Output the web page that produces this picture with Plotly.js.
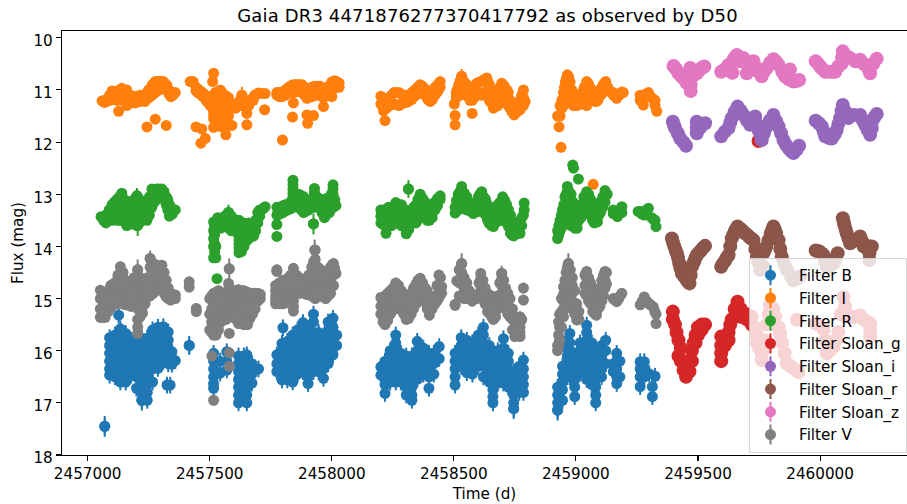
<!DOCTYPE html>
<html><head><meta charset="utf-8">
<script src="https://cdn.plot.ly/plotly-3.0.1.min.js"></script>
<style>html,body{margin:0;padding:0;background:#fff}</style></head>
<body><div id="chart" style="width:907px;height:504px"></div>
<script>
const epoch = 2457000;
const chartTitle = "Gaia DR3 4471876277370417792 as observed by D50";
const filterNames = ["Filter B","Filter I","Filter R","Filter Sloan_g","Filter Sloan_i","Filter Sloan_r","Filter Sloan_z","Filter V"];
// each row: days after epoch, then the magnitudes read at that time
const rowsB = [[70,17.45],[127,15.32],[90,15.75,15.9,16.05,16.2,16.35,16.47],[112,15.7,15.85,16.0,16.15,16.3,16.5],[134,15.58,15.75,15.9,16.05,16.2,16.35,16.5,16.6],[156,15.67,15.85,16.0,16.15,16.3,16.45,16.6],[178,15.8,15.95,16.1,16.25,16.47],[200,15.76,15.9,16.05,16.2,16.35,16.5,16.72],[222,15.76,15.9,16.05,16.2,16.35,16.5,16.65,16.8,16.95],[244,15.76,15.9,16.05,16.2,16.35,16.5,16.65,16.8,16.95],[266,15.6,15.75,15.9,16.05,16.2,16.35,16.6],[288,15.55,15.7,15.85,16.0,16.15,16.34],[310,15.54,15.7,15.85,16.0,16.2],[330,15.64,15.8,15.95,16.1,16.25],[345,16.02,16.15,16.26],[359,16.19],[338,16.66],[325,16.66],[416,15.9],
[516,16.05,16.2,16.35,16.5,16.63,16.72],[543,16.2,16.43],[570,16.02,16.2,16.37],[618,16.1,16.25,16.4,16.55,16.7,16.85,17.0],[640,16.1,16.25,16.4,16.55,16.7,16.85],[652,16.08,16.25,16.4,16.55,16.7,16.85,17.0],[673,16.25,16.45,16.62],[700,16.35],
[775,16.08,16.25,16.4],[796,15.86,16.0,16.15,16.3,16.45,16.56],[800,15.56],[818,15.82,16.0,16.15,16.3,16.45,16.56],[840,15.7,15.85,16.0,16.15,16.3,16.45,16.6],[860,15.6,15.75,15.9,16.05,16.2,16.35,16.45],[882,15.46,15.6,15.75,15.9,16.05,16.2,16.4],[903,15.6,15.75,15.9,16.05,16.2,16.35,16.5,16.63],[925,15.3,15.45,15.65,15.8,15.95,16.1,16.25,16.4],[946,15.65,15.8,15.95,16.1,16.25,16.4],[966,15.75,15.9,16.05,16.2,16.35,16.53],[985,15.45,15.6,15.75,15.9,16.05,16.25],[1005,15.38,15.55,15.7,15.85,16.08],[1020,15.7,15.9],
[1201,16.31,16.47],[1218,16.2,16.35,16.5,16.65,16.82],[1239,16.0,16.15,16.3,16.45,16.6],[1262,15.7,15.85,16.0,16.15,16.3,16.45,16.6],[1283,16.05,16.2,16.35,16.6],[1305,16.1,16.25,16.4,16.55,16.7,16.85],[1328,16.1,16.25,16.4,16.55,16.7,16.85,16.95],[1350,15.82,16.0,16.15,16.3,16.45,16.55],[1375,15.95,16.1,16.25,16.45],[1398,16.05,16.2,16.35,16.5,16.72],[1418,16.05,16.25,16.45],[1440,15.92,16.15],
[1505,16.05,16.2,16.35,16.5,16.66],[1530,15.75,15.9,16.05,16.2,16.3],[1553,15.8,15.95,16.1,16.25,16.42],[1576,15.85,16.0,16.15,16.3,16.45],[1600,15.7,15.85,16.0,16.15,16.3],[1621,15.55,15.7,15.85,16.0,16.15,16.3,16.5],[1645,15.9,16.05,16.2,16.35,16.6],[1660,16.0,16.15,16.3,16.45,16.6,16.75,16.88,17.0],[1680,16.0,16.15,16.3,16.45,16.62],[1703,15.77,15.95,16.1,16.25,16.4,16.62],[1723,16.05,16.2,16.35,16.5,16.7],[1745,16.4,16.55,16.7,16.85,17.0,17.11],[1768,16.3,16.45,16.6,16.8],[1785,16.18,16.35,16.5,16.65,16.8],
[1925,16.7,16.85,17.0,17.14],[1945,16.3,16.45,16.6,16.75,16.95],[1965,15.8,15.95,16.1,16.25,16.5],[1975,15.67,15.85,16.0,16.15,16.3,16.5],[1995,16.1,16.25,16.4,16.55,16.7,16.88],[2017,15.85,16.0,16.15,16.3,16.43],[2044,15.51,15.65,15.8,15.95,16.1,16.25,16.4,16.55],[2065,15.85,16.0,16.15,16.3,16.45,16.65],[2081,15.95,16.1,16.25,16.4,16.55,16.7,16.85,17.0],[2105,15.9,16.05,16.2,16.35,16.5],[2122,15.8,16.0,16.25],
[2167,16.05,16.2,16.35,16.5,16.63],[2153,16.25,16.4],[2180,16.2,16.5],[2263,16.21,16.35,16.5,16.69],[2280,16.21,16.35,16.5],[2300,16.44],[2324,16.49],[2313,16.69,16.88]];
const rowsI = [[59,11.21],[79,11.2,11.22],[100,11.02,11.15],[120,11.03,11.2],[127,11.41],[140,10.97,11.1,11.2],[160,11.0,11.15,11.3],[175,11.1,11.25],[195,11.13,11.25],[215,11.1,11.22],[235,11.1,11.22],[250,11.0,11.15],[265,10.9,11.1],[277,10.84,11.05],[295,10.84,11.0],[310,10.84,10.95],[325,10.92,11.0],[341,11.05,11.13],[359,11.05],[277,11.56],[243,11.71],[322,11.68],
[420,10.84],[432,10.84],[444,10.95,11.02],[465,11.03,11.1],[485,11.12,11.2],[502,11.15,11.3],[516,10.68],[512,10.84],[516,11.1,11.25,11.4,11.55,11.72],[530,11.1,11.3,11.5],[543,11.0,11.2,11.4,11.7],[560,11.1,11.35],[577,11.15,11.35,11.5,11.68],[598,11.3],[615,11.3],[632,11.1,11.3],[652,11.25,11.45,11.67],[670,11.2],[685,11.1],[700,11.06],[727,11.07],[725,11.38],[482,11.93],[464,12.02],[444,11.71],[468,11.75],[566,11.86],[591,11.68],
[775,11.05,11.1],[796,11.05,11.13],[823,10.95,11.05],[843,10.9,11.05,11.25],[860,10.9,11.0],[878,10.9,11.05],[898,11.0,11.16],[918,10.95,11.13],[939,10.93,11.1],[953,10.93,11.1],[966,11.0,11.15,11.32],[980,11.0,11.1],[1000,10.85,11.0,11.13],[1015,10.83,10.95],[1030,10.87,10.95],[839,11.52],[898,11.48],[901,11.64],[925,11.49],[798,11.96],
[1201,11.12,11.27],[1212,11.25,11.4],[1218,11.59],[1235,11.15,11.3],[1255,11.05,11.28],[1275,11.05,11.3],[1295,11.1,11.25],[1315,11.1,11.22],[1340,11.0,11.12],[1362,10.9,11.0],[1382,10.98,11.1],[1403,11.1,11.22],[1423,10.95,11.1],[1444,10.84,10.95],
[1502,11.27],[1505,11.49,11.67],[1510,11.05,11.15],[1520,10.9,11.05],[1532,10.74,10.9,11.05],[1553,10.9,11.1],[1566,11.1,11.2],[1575,11.2,11.45],[1594,10.87,11.1],[1614,10.84,11.1],[1635,10.77,11.05],[1645,10.9,11.2],[1662,11.1,11.35],[1680,11.0,11.3],[1696,10.87,11.05,11.2],[1717,11.0,11.25],[1730,11.2,11.35],[1747,11.3,11.48],[1771,11.2,11.38],[1785,11.0,11.15,11.3],[1792,11.22],
[1925,11.5],[1931,11.71],[1939,12.1],[1935,11.3,11.5],[1949,11.05,11.3],[1957,10.85,11.15],[1965,10.71,10.9,11.1],[1976,10.85,11.2],[1990,11.1,11.3],[2003,11.2,11.3],[2024,11.05,11.25],[2044,10.84,11.05,11.3],[2058,10.95,11.1],[2070,11.1,11.2],[2085,11.1,11.22],[2100,11.0,11.1],[2112,10.9],[2122,10.84],[2140,11.03],[2153,11.05,11.1],[2167,11.16],[2178,11.1],[2188,11.04],[2071,12.81],
[2263,11.1,11.2],[2276,11.1,11.29],[2297,11.05,11.1],[2310,11.15],[2324,11.2,11.3],[2331,11.41]];
const moreRowsI = [[69,11.2,11.24],[90,11.1,11.2],[110,11.03,11.15],[130,11.0,11.12],[150,11.03,11.18],[168,11.1,11.2],[185,11.12,11.22],[205,11.12,11.22],[225,11.12,11.2],[243,11.05,11.16],[258,10.97,11.12],[271,10.88,11.05],[286,10.84,11.0],[303,10.84,10.97],[318,10.88,10.98],[333,11.0,11.08],[350,11.07,11.1],[160,11.22],
[452,10.98,11.05],[475,11.07,11.14],[494,11.15,11.25],[509,11.12,11.3],[523,11.05,11.2,11.4],[537,11.05,11.25,11.45],[551,11.05,11.25],[568,11.12,11.3,11.45],[588,11.25,11.35],[606,11.28,11.35],[624,11.2,11.3],[642,11.2,11.3],[660,11.22,11.3],[678,11.15,11.2],[692,11.08],[712,11.07],[550,11.15,11.55],[516,11.32,11.48],
[786,11.05,11.13],[810,11.0,11.1],[833,10.92,11.05],[852,10.9,11.03],[869,10.9,11.03],[888,10.95,11.1],[908,10.97,11.13],[929,10.93,11.1],[946,10.93,11.08],[960,10.97,11.1],[973,11.03,11.12],[990,10.92,11.08],[1008,10.83,10.98],[1023,10.85,10.93],
[1207,11.15,11.3],[1225,11.18,11.35],[1245,11.1,11.28],[1265,11.05,11.28],[1285,11.08,11.27],[1305,11.1,11.24],[1328,11.05,11.18],[1351,10.95,11.08],[1372,10.93,11.05],[1393,11.03,11.18],[1413,11.02,11.18],[1434,10.9,11.03],
[1513,11.0,11.12],[1526,10.82,11.0,11.1],[1543,10.85,11.05],[1558,10.97,11.13],[1583,10.95,11.15],[1604,10.85,11.05],[1624,10.8,11.05],[1640,10.85,11.1],[1653,11.0,11.25],[1671,11.05,11.32],[1688,10.95,11.25],[1706,10.92,11.2],[1723,11.05,11.3],[1738,11.25,11.42],[1759,11.28,11.42],[1778,11.1,11.3],[1662,11.22],
[1942,11.2,11.35],[1953,10.95,11.2],[1961,10.78,11.0,11.15],[1970,10.75,10.95,11.15],[1983,11.0,11.25],[1996,11.15,11.3],[2014,11.15,11.28],[2034,10.95,11.2],[2051,10.88,11.05,11.25],[2064,11.0,11.2],[2078,11.12,11.22],[2092,11.05,11.18],[2106,10.95,11.08],[2117,10.87,11.0],[2131,10.95],[2160,11.12],[2194,11.05],[2270,11.15],[2286,11.08],[2317,11.18]];
const rowsR = [[55,13.43],[75,13.4,13.55],[100,13.2,13.35,13.5],[120,13.1,13.3,13.5],[140,12.98,13.15,13.3,13.5],[160,13.15,13.35,13.6],[180,13.2,13.4,13.55],[202,13.03,13.2,13.4,13.6],[222,13.2,13.35,13.5],[243,13.2,13.35,13.5],[263,12.9,13.05,13.25],[283,12.9,13.1],[304,12.9,13.05],[322,13.05,13.2],[335,13.2,13.42],[359,13.3],
[530,14.62],[516,13.53,13.7,13.85,14.0,14.22],[525,14.0,14.22],[545,13.5,13.65],[577,13.35,13.5,13.65],[600,13.5,13.7],[620,13.5,13.65,13.8,13.95,14.12],[640,13.55,13.7,13.85,14.0],[660,13.55,13.7,13.85],[680,13.6,13.8],[697,13.35,13.55],[712,13.3],[727,13.24],
[775,13.25,13.4,13.58,13.81],[800,13.22,13.35],[820,13.2,13.3],[841,12.73,12.9,13.05,13.25],[865,13.0,13.25],[885,13.05,13.2,13.35],[905,13.12,13.3],[929,12.89,13.05,13.25],[925,13.57],[950,13.1,13.2],[970,13.1,13.25,13.45],[990,13.1,13.35],[1005,12.82,13.0,13.25],[1017,13.22],
[1201,13.3,13.55],[1222,13.3,13.5,13.75],[1245,13.3,13.6],[1262,13.16,13.35,13.55],[1285,13.2,13.4,13.6],[1305,13.35,13.55,13.76],[1314,12.9],[1325,13.3,13.55],[1345,13.2,13.4,13.55],[1362,13.0,13.2,13.4],[1382,13.15,13.45],[1400,13.3,13.5],[1423,13.15,13.3],[1444,13.03,13.1],
[1505,13.25,13.36],[1518,13.0,13.15,13.3],[1532,12.85,13.0,13.2],[1553,13.05,13.3],[1580,13.24,13.37],[1600,13.05,13.33],[1614,12.95,13.25],[1630,13.1,13.4],[1645,13.3,13.56],[1662,13.3,13.62],[1680,13.2,13.5],[1700,13.05,13.25,13.5],[1716,13.2,13.55],[1732,13.4,13.75],[1745,13.6,13.8],[1771,13.6,13.75],[1785,13.4],[1788,13.17,13.3],
[1925,13.7,13.85],[1935,13.5,13.7],[1945,13.3,13.6],[1955,13.05,13.3,13.5],[1965,12.85,13.05,13.25,13.4],[1980,13.0,13.3,13.6],[1995,13.3,13.65],[2005,13.35,13.65],[2020,13.2,13.45],[2044,12.95,13.25],[2060,13.1,13.4],[2075,13.3,13.55],[2088,13.3,13.53],[2100,13.15,13.35],[2119,12.93,13.15],[1987,12.44],[1990,12.5],[2010,12.71],
[2153,13.3,13.37],[2170,13.43],[2188,13.24,13.35],[2263,13.33],[2280,13.33,13.4],[2297,13.27],[2310,13.45],[2324,13.5],[2328,13.62]];
const moreRowsR = [[65,13.43,13.5],[88,13.3,13.45,13.5],[110,13.15,13.3,13.45],[130,13.05,13.2,13.35,13.5],[150,13.1,13.25,13.4,13.52],[170,13.15,13.3,13.45,13.58],[191,13.1,13.25,13.4,13.55],[212,13.1,13.25,13.45,13.55],[232,13.2,13.3,13.45],[253,13.05,13.2,13.4],[273,12.92,13.05,13.15],[293,12.9,13.02],[313,12.95,13.1],[328,13.1,13.3],[347,13.28,13.38],
[520,13.6,13.78,13.95,14.1],[533,13.45,13.6],[561,13.42,13.58],[589,13.42,13.6,13.7],[610,13.5,13.65],[630,13.55,13.7,13.85,14.0,14.1],[650,13.6,13.75,13.9],[670,13.6,13.75],[688,13.5,13.7],[705,13.3,13.42],[720,13.27],[620,13.6,13.72,13.88,14.03],[640,13.62,13.78,13.92],
[787,13.25,13.38],[810,13.2,13.32],[831,13.15,13.28],[853,13.05,13.2],[875,13.03,13.18,13.3],[895,13.12,13.25,13.32],[917,13.1,13.2],[940,13.05,13.18],[960,13.1,13.25,13.35],[980,13.08,13.2,13.38],[998,13.0,13.15,13.28],[841,12.82,12.98,13.15],[929,12.97,13.15],[1005,12.9,13.12],[1012,13.1,13.22],
[1211,13.3,13.42,13.58],[1232,13.25,13.42,13.62],[1253,13.25,13.4,13.55],[1273,13.2,13.35,13.55],[1295,13.28,13.45,13.62],[1315,13.35,13.5,13.68],[1335,13.25,13.4,13.55],[1353,13.1,13.3,13.48],[1372,13.08,13.25,13.42],[1391,13.25,13.4,13.5],[1411,13.2,13.35,13.45],[1433,13.08,13.22],[1201,13.42],[1222,13.4,13.62],[1245,13.45],[1285,13.3,13.5],[1305,13.45,13.65],
[1511,13.12,13.3],[1525,12.95,13.1,13.25],[1543,12.98,13.15,13.28],[1565,13.2,13.32],[1590,13.15,13.3],[1607,13.0,13.15,13.3],[1622,13.05,13.2,13.35],[1638,13.2,13.35,13.5],[1654,13.35,13.5,13.6],[1671,13.25,13.4,13.55],[1690,13.15,13.3,13.5],[1708,13.12,13.3,13.5],[1724,13.3,13.45,13.62],[1738,13.5,13.65,13.78],[1758,13.62,13.75],[1778,13.45,13.6],
[1930,13.6,13.78],[1940,13.4,13.55,13.65],[1950,13.2,13.35,13.5],[1960,13.0,13.15,13.3,13.45],[1972,12.95,13.1,13.3,13.5],[1988,13.15,13.35,13.6],[2000,13.4,13.55,13.63],[2012,13.3,13.5],[2032,13.05,13.25,13.38],[2052,13.0,13.15,13.35],[2068,13.2,13.35,13.5],[2082,13.35,13.5],[2094,13.2,13.4],[2110,13.05,13.25],[1965,12.95,13.15],[1980,13.15,13.45],[1995,13.48],[2044,13.1],[2060,13.25],[2128,13.0],
[2160,13.35],[2179,13.35],[2255,13.33],[2270,13.38],[2288,13.3],[2318,13.48]];
const rowsG = [[2748,11.98],[2397,15.25,15.4],[2406,15.5],[2412,15.65],[2420,15.8,16.1],[2430,15.95,16.2],[2441,16.2,16.37],[2451,16.3,16.5],[2465,16.2,16.4],[2475,16.0,16.2],[2482,15.85],[2490,15.7,15.85],[2500,15.55,15.7],[2515,15.5,15.6],[2529,15.5],
[2595,15.73,15.9,16.05,16.2],[2610,15.75,15.9],[2625,15.65,15.8],[2632,15.5],[2638,15.4],[2650,15.2],[2662,15.06,15.2],[2675,15.2,15.35],[2686,15.35],[2700,15.3,15.4],[2720,15.35,15.5],[2732,15.55],[2741,15.7,15.85],[2750,15.95],[2761,16.05,16.18],[2772,15.8,15.95],[2782,15.5],[2790,15.3],[2795,15.13],[2808,15.2],[2816,15.35,15.5],[2830,15.55],[2836,15.67],[2845,15.85],[2855,16.05],[2864,16.24],[2880,16.3],[2895,16.35],[2911,16.41],[2905,15.41],
[2982,15.48],[2995,15.5],[3014,15.6],[3022,15.8],[3027,16.05],[3040,16.0],[3055,15.93],[3065,15.8],[3075,15.64],[3085,15.3],[3096,14.97],[3103,15.15],[3109,15.35],[3130,15.35],[3145,15.35],[3164,15.32],[3178,15.4],[3195,15.45],[3205,15.48,15.6,15.73]];
const rowsSI = [[2397,11.61],[2402,11.68],[2406,11.73],[2417,11.83],[2427,11.93],[2440,12.0],[2451,12.07],[2495,11.61,11.72,11.83],[2510,11.72],[2529,11.64],[2518,11.66],
[2595,11.89],[2610,11.8],[2625,11.73],[2632,11.63],[2638,11.54],[2650,11.42],[2662,11.32],[2675,11.4],[2686,11.48],[2700,11.58],[2713,11.67],[2722,11.6],[2734,11.51],[2741,11.65],[2748,11.77],[2755,11.85],[2761,11.96],[2770,11.83],[2782,11.7],[2795,11.58],[2809,11.48],[2820,11.6],[2830,11.7],[2840,11.83],[2850,11.96],[2860,12.05],[2871,12.12],[2881,12.17],[2891,12.21],[2903,12.15],[2914,12.07],
[2982,11.59],[2995,11.64],[3007,11.7],[3015,11.8],[3021,11.89],[3035,11.92],[3048,11.93],[3060,11.85],[3068,11.77],[3075,11.65],[3082,11.54],[3088,11.4],[3093,11.29],[3105,11.42],[3116,11.54],[3140,11.48],[3164,11.48],[3175,11.58],[3184,11.67],[3195,11.77],[3205,11.86],[3212,11.61,11.73],[3222,11.53],[3232,11.46]];
const rowsSR = [[2393,13.85],[2398,13.93],[2403,14.0],[2408,14.07],[2413,14.13],[2418,14.22],[2423,14.32],[2428,14.42],[2434,14.52],[2442,14.57],[2450,14.62],[2457,14.67],[2465,14.71],[2470,14.55],[2475,14.39],[2480,14.33],[2485,14.28],[2490,14.22],[2495,14.17],[2503,14.12],[2512,14.08],[2520,14.03],[2529,13.99],
[2595,14.39],[2602,14.33],[2610,14.28],[2617,14.22],[2625,14.17],[2632,14.0],[2638,13.85],[2644,13.78],[2650,13.72],[2656,13.67],[2662,13.62],[2670,13.65],[2678,13.68],[2686,13.72],[2693,13.75],[2702,13.78],[2710,13.82],[2718,13.85],[2727,13.88],[2735,14.05],[2741,14.2],[2748,14.3],[2754,14.45],[2768,14.39,14.13],[2775,14.05],[2780,14.0],[2789,13.88],[2798,13.75],[2804,13.68],[2809,13.62],[2815,13.68],[2820,13.75],[2830,13.88],[2837,14.05],[2843,14.2],[2853,14.33],[2864,14.45],[2878,14.55],[2891,14.65],[2905,14.62],[2918,14.58],
[2982,14.08],[2990,14.09],[2998,14.1],[3006,14.13],[3014,14.17],[3020,14.28],[3027,14.39],[3040,14.37],[3055,14.33],[3064,14.23],[3072,14.13],[3093,13.46],[3097,13.53],[3100,13.6],[3105,13.68],[3109,13.75],[3116,13.85],[3123,13.94],[3135,13.9],[3145,13.88],[3155,13.85],[3164,13.81],[3172,13.9],[3178,14.0],[3187,14.0],[3195,14.0],[3204,14.0],[3212,14.0],[3202,14.13,14.26]];
const rowsSZ = [[2400,10.54],[2410,10.6],[2420,10.68],[2430,10.73],[2441,10.78],[2454,10.87],[2462,10.75],[2470,11.02,10.9],[2468,10.58],[2475,10.65],[2482,10.72],[2495,10.68],[2503,10.64],[2510,10.6],[2518,10.57],[2526,10.55],
[2595,10.65],[2603,10.63],[2612,10.6],[2625,10.52],[2641,10.67],[2645,10.42],[2652,10.37],[2659,10.33],[2672,10.45],[2686,10.39],[2700,10.68,10.48],[2713,10.47],[2727,10.45],[2740,10.58],[2750,10.66],[2761,10.74],[2770,10.65],[2782,10.58],[2795,10.48],[2809,10.41],[2820,10.46],[2830,10.52],[2845,10.65],[2857,10.74],[2866,10.77],[2877,10.61],[2874,10.8],[2891,10.84],[2903,10.83],[2914,10.81],
[2982,10.45],[2992,10.5],[3000,10.55],[3010,10.6],[3021,10.65],[3040,10.65],[3052,10.65],[3062,10.65],[3075,10.55],[3089,10.49],[3093,10.26],[3090,10.38],[3108,10.35],[3123,10.39],[3145,10.45],[3164,10.42],[3178,10.5],[3191,10.52],[3198,10.6],[3205,10.68],[3218,10.5],[3232,10.4]];
const rowsV = [[52,14.84,15.0,15.2,15.36],[72,14.93,15.1,15.36],[95,14.75,14.95,15.18],[115,14.68,14.9,15.1],[134,14.39,14.55,14.7,14.9,15.09],[155,14.65,14.9,15.12],[178,14.72,14.95,15.15],[205,14.45,14.62,14.8,15.0,15.2,15.4,15.55,15.67],[225,14.7,15.0,15.28],[245,14.6,14.8,14.97],[256,14.23,14.4,14.6,14.8,14.95],[280,14.35,14.6,14.85],[304,14.36,14.55,14.77],[322,14.65,14.97],[340,14.9,15.03],[359,14.93,15.0],
[416,14.68,14.78],[445,15.19,15.25],[580,14.43,15.67,16.04,16.3],[577,14.71],[500,15.0,15.3,15.6],[516,14.9,15.1,15.3,15.5,15.7],[536,14.85,15.1,15.35,15.6],[557,14.9,15.15,15.4],[577,14.85,15.05,15.3],[598,14.85,15.1,15.35],[618,14.83,15.05,15.25,15.48],[640,14.85,15.05,15.3,15.5],[655,14.88,15.1,15.3,15.5],[675,14.9,15.1,15.3],[697,14.9,15.05],[509,16.1],[516,16.95],
[775,14.45,14.48],[770,14.75,14.95,15.1],[800,14.65,14.9,15.1],[822,14.6,14.85,15.05],[843,14.42,14.6,14.8,15.05,15.24],[868,14.6,14.9],[895,14.7,14.92],[918,14.4,14.7,14.95],[932,14.07,14.25,14.45,14.65,14.85,15.0],[955,14.45,14.7,14.95],[975,14.6,14.8,15.0],[995,14.4,14.65,14.9],[1007,14.33,14.55,14.75],[1017,14.52],
[1201,14.98,15.15,15.3],[1218,14.95,15.2,15.5],[1240,14.85,15.1,15.3],[1262,14.7,14.95,15.2],[1285,14.85,15.0,15.2],[1305,15.0,15.2,15.4],[1325,14.9,15.1,15.3],[1345,14.72,14.9,15.1],[1362,14.61,14.8,15.0],[1382,14.8,15.05],[1400,15.0,15.32],[1423,14.95,15.1],[1439,14.55,14.75,14.98],[1450,14.77,14.9],
[1505,15.11,15.13],[1512,14.66],[1532,14.33,14.5,14.7],[1553,14.7,15.0],[1575,14.95,15.05],[1595,14.95,15.0],[1610,14.52,14.75,14.98],[1628,14.8,15.1],[1648,14.95,15.3],[1662,15.0,15.2,15.4],[1680,14.95,15.2],[1696,14.52,14.75,15.05],[1712,14.8,15.2],[1730,15.0,15.35],[1750,15.35,15.55,15.73],[1771,15.35,15.55,15.73],[1785,14.8,15.03],
[1925,15.9,16.0],[1933,15.3,15.55,15.8],[1949,14.78,15.05,15.35],[1960,14.5,14.8,15.1],[1969,14.33,14.65,15.0],[1985,14.6,14.9,15.2],[2003,15.1,15.41],[2044,14.48,14.7,14.95],[2060,14.7,15.1],[2078,14.95,15.3],[2090,14.9,15.2],[2106,14.65,14.85,15.05],[2119,14.48,14.8],
[2153,15.0],[2167,15.06],[2175,15.0],[2188,14.9],[2263,15.12],[2280,14.97],[2290,15.05],[2300,15.1],[2317,15.16],[2328,15.3,15.48]];
const moreRowsV = [[62,14.9,15.05,15.25,15.36],[84,14.85,15.05,15.25],[105,14.72,14.85,15.0,15.12],[124,14.55,14.8,15.0,15.1],[145,14.5,14.7,14.85,15.0,15.1],[166,14.68,14.8,15.0,15.12],[190,14.6,14.8,14.95,15.1],[215,14.6,14.8,15.0,15.2,15.35],[235,14.65,14.85,15.1],[268,14.35,14.55,14.75,14.9],[292,14.4,14.6,14.8],[313,14.5,14.7,14.9],[330,14.8,15.0],[350,14.95,15.0],[134,14.8,15.0],[155,14.78,15.0],[178,14.85,15.05],[225,14.85,15.15],[245,14.7,14.9],[95,14.85,15.05],[115,14.8,15.0],[72,15.0,15.22],
[508,14.95,15.2,15.45,15.65],[526,14.88,15.0,15.2,15.45,15.7],[546,14.9,15.05,15.25,15.45],[567,14.88,15.05,15.25,15.4],[587,14.85,15.0,15.2,15.35],[608,14.85,15.0,15.2,15.4],[629,14.85,15.0,15.15,15.35,15.48],[647,14.9,15.0,15.2,15.4,15.5],[665,14.9,15.0,15.2,15.38],[686,14.9,15.05,15.2],[707,14.92,15.0],[516,15.0,15.2,15.4,15.6],[536,15.0,15.25,15.5],[557,15.03,15.28],[598,14.97,15.22],[618,14.95,15.15,15.37],[640,14.95,15.18,15.4],
[785,14.7,14.9,15.1],[811,14.65,14.85,15.05],[832,14.55,14.75,14.95,15.1],[855,14.55,14.75,14.9],[880,14.65,14.85],[906,14.55,14.75,14.93],[925,14.3,14.55,14.8,14.97],[943,14.4,14.6,14.8,14.95],[965,14.55,14.75,14.97],[985,14.5,14.7,14.95],[1002,14.35,14.55,14.75],[770,14.85,15.03],[800,14.78,15.0],[822,14.72,14.95],[843,14.7,14.92,15.15],[868,14.75],[895,14.8],[918,14.55,14.82],[955,14.58,14.82],[975,14.7,14.9],[995,14.52,14.78],[1012,14.42],
[1210,14.98,15.15,15.35,15.45],[1229,14.9,15.05,15.25,15.42],[1251,14.8,15.0,15.2],[1273,14.75,14.95,15.15],[1295,14.92,15.1,15.3],[1315,14.98,15.2,15.38],[1335,14.8,15.0,15.2],[1353,14.65,14.85,15.05],[1372,14.7,14.9,15.05],[1391,14.85,15.05,15.2],[1411,15.0,15.2],[1431,14.75,14.95,15.05],[1445,14.6,14.85],[1218,15.05,15.35],[1240,14.97,15.2],[1262,14.82,15.08],[1285,14.92,15.1],[1305,15.1,15.3],[1325,15.0,15.2],[1345,14.8,15.0],[1362,14.7,14.9],[1382,14.92],[1400,15.15],[1423,15.02],
[1522,14.45,14.7,14.95],[1542,14.6,14.8,15.0],[1563,14.85,15.0],[1603,14.7,14.9],[1619,14.65,14.85,15.0],[1638,14.9,15.1,15.25],[1655,14.95,15.2,15.35],[1671,14.98,15.2,15.35],[1688,14.7,14.95,15.15],[1704,14.65,14.85,15.1],[1721,14.9,15.1,15.3],[1740,15.2,15.4,15.6],[1760,15.4,15.6],[1553,14.85],[1628,14.95],[1648,15.12],[1662,15.1,15.3],[1712,15.0],[1730,15.18],[1750,15.45,15.65],[1771,15.45,15.65],[1778,15.4],[1532,14.6],[1610,14.63,14.87],[1696,14.63,14.9],
[1929,15.45,15.7,15.9],[1941,15.0,15.25,15.55],[1955,14.65,14.9,15.2],[1965,14.4,14.7,14.95],[1977,14.45,14.75,15.05],[1995,14.85,15.1,15.3],[2012,15.25,15.4],[2037,14.55,14.75,14.9],[2052,14.6,14.85,15.05],[2069,14.8,15.05,15.25],[2084,14.95,15.15,15.32],[2098,14.8,15.0,15.15],[2113,14.55,14.75,14.95],[2125,14.5,14.72],[1949,14.92,15.2],[1960,14.65,14.95],[1969,14.5,14.82],[1985,14.75,15.05],[2003,15.25],[2044,14.6,14.83],[2060,14.9],[2078,15.12],[2090,15.05],[2106,14.75,14.95],[2119,14.65],
[2158,15.02],[2181,14.95],[2272,15.05],[2308,15.13],[2323,15.25]];
// points whose error bar is long enough to stand out: days, magnitude, error
const longErrorsB = [[70,17.45,0.2],[416,15.9,0.18],[1745,17.11,0.2],[1925,17.14,0.2],[222,16.95,0.2]];
const longErrorsI = [[632,11.1,0.16],[1532,10.74,0.14]];
const longErrorsR = [[205,13.6,0.2],[202,13.03,0.15],[1314,12.9,0.17],[925,13.57,0.2],[577,13.35,0.15]];
const longErrorsV = [[930,14.07,0.2],[580,14.43,0.2],[1532,14.33,0.2],[1969,14.33,0.2],[205,14.45,0.2],[256,14.23,0.15],[1696,14.52,0.15]];
const longErrorsNone = [];
const allRows = [rowsB,rowsI.concat(moreRowsI),rowsR.concat(moreRowsR),rowsG,rowsSI,rowsSR,rowsSZ,rowsV.concat(moreRowsV)];
const allLong = [longErrorsB,longErrorsI,longErrorsR,longErrorsNone,longErrorsNone,longErrorsNone,longErrorsNone,longErrorsV];
const baseErrors = [0.16,0.06,0.09,0.1,0.05,0.05,0.05,0.1];
const colors = ["#1f77b4","#ff7f0e","#2ca02c","#d62728","#9467bd","#8c564b","#e377c2","#7f7f7f"];
const markerSizes = [11,11,11,14,14,14,14,11];

const traces = filterNames.map((name,i)=>{
  const pts = allRows[i].flatMap(r=>r.slice(1).map(m=>[r[0],m,baseErrors[i]])).concat(allLong[i]);
  return {type:'scatter',mode:'markers',name:name,
    x:pts.map(p=>epoch+p[0]),y:pts.map(p=>p[1]),
    marker:{color:colors[i],size:markerSizes[i],line:{width:0}},
    error_y:{type:'data',array:pts.map(p=>p[2]),thickness:2,width:0,color:colors[i]}};
});
const font = "'DejaVu Sans', sans-serif";
const layout = {
  width:907,height:504,
  margin:{l:61.7,r:0,t:31,b:48.5,pad:0},
  paper_bgcolor:'#fff',plot_bgcolor:'#fff',
  font:{family:font,size:15.2,color:'#000'},
  title:{text:chartTitle,font:{family:font,size:18,color:'#000'},x:0.5375,xanchor:'center',y:0.968,yanchor:'middle'},
  xaxis:{title:{text:'Time (d)',font:{size:15.2},standoff:6},range:[2456895,2460356],tickvals:[2457000,2457500,2458000,2458500,2459000,2459500,2460000],tickformat:'d',
    ticks:'outside',ticklen:5,tickwidth:1.1,tickcolor:'#000',showgrid:false,zeroline:false,showline:true,linecolor:'#000',linewidth:1.2,mirror:true,tickfont:{size:15.2}},
  yaxis:{title:{text:'Flux (mag)',font:{size:15.2},standoff:6},range:[18,9.87],tickvals:[10,11,12,13,14,15,16,17,18],ticklabelshift:-3,
    ticks:'outside',ticklen:5,tickwidth:1.1,tickcolor:'#000',showgrid:false,zeroline:false,showline:true,linecolor:'#000',linewidth:1.2,tickfont:{size:15.2}},
  legend:{x:1,xanchor:'right',y:0.465,yanchor:'top',bgcolor:'rgba(255,255,255,0.8)',bordercolor:'rgba(204,204,204,0.8)',borderwidth:1,font:{family:font,size:15.2,color:'#000'},itemwidth:39,itemclick:false,itemdoubleclick:false},
  showlegend:true
};
Plotly.newPlot('chart',traces,layout,{staticPlot:true,displayModeBar:false}).then(gd=>{
  const titleText = gd.querySelector('.gtitle');
  if(titleText) titleText.style.letterSpacing='0.15px';
  // matplotlib-style legend glyphs: a short vertical error bar through each marker
  gd.querySelectorAll('.legend .legendpoints').forEach((g,i)=>{
    const dot = g.querySelector('path');
    if(!dot) return;
    const tr = dot.getAttribute('transform')||'';
    const t = tr.match(/translate\(([-\d.]+),\s*([-\d.]+)\)/);
    const cx = t?+t[1]:20, cy = t?+t[2]:0;
    dot.setAttribute('transform',tr+' scale('+(11/markerSizes[i])+')');
    const line = document.createElementNS('http://www.w3.org/2000/svg','line');
    line.setAttribute('x1',cx);line.setAttribute('x2',cx);
    line.setAttribute('y1',cy-10);line.setAttribute('y2',cy+10);
    line.setAttribute('stroke',colors[i]);line.setAttribute('stroke-width',2);
    g.insertBefore(line,g.firstChild);
    g.setAttribute('transform','translate(-4,0)');
  });
});
</script></body></html>
